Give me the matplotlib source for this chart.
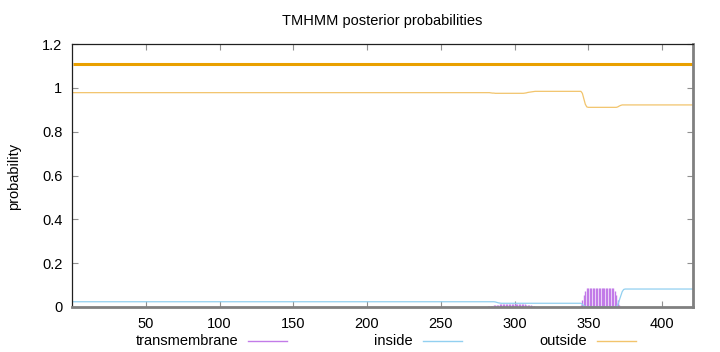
import matplotlib.pyplot as plt
import numpy as np
from matplotlib.lines import Line2D

plt.rcParams['font.family'] = ['Liberation Sans', 'DejaVu Sans']

seq_len = 421

# posterior probabilities, stored as (value, run length)
tm_runs = [
    (0.0, 281),
    (0.003, 2), (0.005, 2), (0.008, 2), (0.010, 2), (0.012, 18), (0.010, 2),
    (0.007, 2), (0.004, 2),
    (0.0, 31),
    (0.010, 1), (0.030, 1), (0.055, 1), (0.075, 1), (0.085, 1), (0.088, 17),
    (0.085, 1), (0.075, 1), (0.055, 1), (0.030, 1), (0.010, 1),
    (0.0, 50),
]
inside_runs = [
    (0.024, 286),
    (0.023, 1), (0.021, 1), (0.019, 1), (0.018, 1), (0.017, 1),
    (0.017, 54),
    (0.012, 1), (0.006, 1), (0.003, 1), (0.001, 21),
    (0.010, 1), (0.030, 1), (0.050, 1), (0.070, 1), (0.080, 1),
    (0.082, 47),
]
outside_runs = [
    (0.978, 283),
    (0.977, 1), (0.976, 2),
    (0.975, 20),
    (0.976, 1), (0.977, 1), (0.979, 1), (0.980, 1), (0.981, 1), (0.982, 1),
    (0.983, 1), (0.984, 1), (0.984, 1),
    (0.984, 30),
    (0.975, 1), (0.950, 1), (0.925, 1), (0.913, 1), (0.911, 1),
    (0.911, 19),
    (0.913, 1), (0.917, 1), (0.920, 1), (0.922, 1),
    (0.922, 48),
]

# predicted topology
topo_start = [1]
topo_end = [seq_len]
topo_level = [1.11]

xticks = [50, 100, 150, 200, 250, 300, 350, 400]
yticks = [0, 0.2, 0.4, 0.6, 0.8, 1.0, 1.2]
ytick_labels = ['0', '0.2', '0.4', '0.6', '0.8', '1', '1.2']


def expand(runs):
    vals = []
    for v, n in runs:
        vals.extend([v] * n)
    return np.array(vals)


tm = expand(tm_runs)
inside = expand(inside_runs)
outside = expand(outside_runs)
pos = np.arange(1, len(tm) + 1)

tm_col = '#c27be8'
in_col = '#92d0f0'
out_col = '#f2c46c'
topo_col = '#e9a000'

fig = plt.figure(figsize=(7.2, 3.52), dpi=100)
ax = fig.add_axes([72 / 720, 1 - 307 / 352, (693 - 72) / 720, (307 - 44) / 352])

ax.vlines(pos, 0, tm, colors=tm_col, linewidth=1.0)
ax.plot(np.arange(1, len(inside) + 1), inside, color=in_col, linewidth=0.9)
ax.plot(np.arange(1, len(outside) + 1), outside, color=out_col, linewidth=0.9)
ax.hlines(topo_level, topo_start, topo_end, colors=topo_col, linewidth=2.2)

ax.set_xlim(0, seq_len)
ax.set_ylim(0, 1.2)
ax.set_xticks(xticks)
ax.set_yticks(yticks)
ax.set_yticklabels(ytick_labels)
ax.tick_params(direction='in', length=4, width=0.8, color='#909090',
               top=True, right=True, labelsize=10.5, pad=7)
ax.tick_params(axis='x', pad=7)

for side in ['left', 'top']:
    ax.spines[side].set_color('#202020')
    ax.spines[side].set_linewidth(0.9)
for side in ['bottom', 'right']:
    ax.spines[side].set_color('#808080')
    ax.spines[side].set_linewidth(2.0)

fig.text(382 / 720, 1 - 21 / 352, 'TMHMM posterior probabilities',
         ha='center', va='center', fontsize=10.5)
fig.text(14 / 720, 1 - 176 / 352, 'probability', rotation=90,
         ha='center', va='center', fontsize=10.5)

# gnuplot style key: right-justified text followed by a sample line
key_names = ['transmembrane', 'inside', 'outside']
key_cols = [tm_col, in_col, out_col]
key_y = 1 - 341 / 352
for i, (name, col) in enumerate(zip(key_names, key_cols)):
    right = 238 + i * 174.5
    fig.text(right / 720, key_y, name, ha='right', va='center', fontsize=10.5)
    fig.add_artist(Line2D([(right + 10) / 720, (right + 49) / 720], [key_y, key_y],
                          color=col, linewidth=1.0, transform=fig.transFigure))

fig.savefig('out.png', dpi=100)
